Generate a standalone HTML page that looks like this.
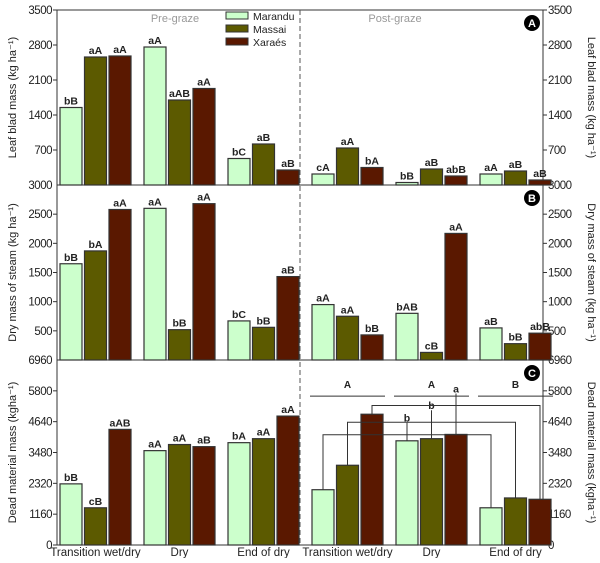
<!DOCTYPE html>
<html><head><meta charset="utf-8"><style>
body{margin:0;background:#fff;font-family:"Liberation Sans",sans-serif}
svg text{font-family:"Liberation Sans",sans-serif}
</style></head><body>
<svg width="600" height="558">
<g id="g"></g>
</svg>
<script>
const groups=["Transition wet/dry","Dry","End of dry","Transition wet/dry","Dry","End of dry"];
const seriesNames=["Marandu","Massai","Xaraés"];
const leafM=[1550,2760,530,220,50,220];
const leafMs=[2560,1700,820,740,320,280];
const leafX=[2580,1930,300,350,180,100];
const leafL=[["bB","aA","aA"],["aA","aAB","aA"],["bC","aB","aB"],["cA","aA","bA"],["bB","aB","abB"],["aA","aB","aB"]];
const dryM=[1650,2600,670,950,800,550];
const dryMs=[1870,520,560,750,130,280];
const dryX=[2580,2680,1430,430,2170,460];
const dryL=[["bB","bA","aA"],["aA","bB","aA"],["bC","bB","aB"],["aA","aA","bB"],["bAB","cB","aA"],["aB","bB","abB"]];
const deadM=[2300,3550,3850,2080,3920,1400];
const deadMs=[1400,3780,4000,3000,4000,1770];
const deadX=[4350,3700,4850,4920,4160,1720];
const deadL=[["bB","cB","aAB"],["aA","aA","aB"],["bA","aA","aA"],["","",""],["","",""],["","",""]];
const ticksA=[0,700,1400,2100,2800,3500];
const ticksB=[500,1000,1500,2000,2500,3000];
const ticksC=[0,1160,2320,3480,4640,5800,6960];
const colors=["#ccffcc","#5c5a00","#5a1800"];
const NS="http://www.w3.org/2000/svg";
const g=document.getElementById('g');
function el(t,a,txt){const e=document.createElementNS(NS,t);for(const k in a)e.setAttribute(k,a[k]);if(txt!==undefined)e.textContent=txt;g.appendChild(e);return e;}
const X0=57,X1=543;
function bx(gi,si){return 60+gi*84+si*24.5;}
const panels=[
 {top:10,bot:185,max:3500,data:[leafM,leafMs,leafX],lab:leafL,ticks:ticksA,title:"Leaf blad mass (kg ha⁻¹)",id:"A",bottomLabel:"3000",name:"leaf"},
 {top:185,bot:360,max:3000,data:[dryM,dryMs,dryX],lab:dryL,ticks:ticksB,title:"Dry mass of steam (kg ha⁻¹)",id:"B",bottomLabel:"6960",name:"dry"},
 {top:360,bot:545,max:6960,data:[deadM,deadMs,deadX],lab:deadL,ticks:ticksC,title:"Dead material mass (kgha⁻¹)",id:"C",name:"dead"}
];
panels.forEach((p,pi)=>{
 const y=v=>p.bot-v/p.max*(p.bot-p.top);
 let r=el('rect',{x:X0,y:p.top,width:X1-X0,height:p.bot-p.top,fill:'none',stroke:'#333','stroke-width':1});
 
 p.ticks.forEach(t=>{
  const yy=y(t);
  if(t===p.max && pi>0) return;
  if(t===0 && p.bottomLabel) return;
  el('line',{x1:X0-4,x2:X0,y1:yy,y2:yy,stroke:'#333'});
  el('line',{x1:X1,x2:X1+4,y1:yy,y2:yy,stroke:'#333'});
  let a=el('text',{x:X0-5,y:yy+4,'text-anchor':'end','font-size':11.5,fill:'#222','letter-spacing':'-0.5'},String(t));
  
  let b=el('text',{x:X1+5,y:yy+4,'font-size':11.5,fill:'#222','letter-spacing':'-0.5'},String(t));
  
 });
 if(p.bottomLabel){el('text',{x:X0-5,y:p.bot+4,'text-anchor':'end','font-size':11.5,fill:'#222','letter-spacing':'-0.5'},p.bottomLabel);el('text',{x:X1+5,y:p.bot+4,'font-size':11.5,fill:'#222','letter-spacing':'-0.5'},p.bottomLabel);}
 const cy=(p.top+p.bot)/2;
 let t1=el('text',{x:0,y:0,transform:`translate(16,${cy}) rotate(-90)`,'text-anchor':'middle','font-size':11,fill:'#222'},p.title);
 
 let t2=el('text',{x:0,y:0,transform:`translate(588,${cy}) rotate(90)`,'text-anchor':'middle','font-size':11,fill:'#222'},p.title);
 
 p.data.forEach((arr,si)=>arr.forEach((v,gi)=>{
  const x=bx(gi,si),yy=y(v);
  let b=el('rect',{x:x,y:yy,width:22,height:p.bot-yy,fill:colors[si],stroke:'#333','stroke-width':1.2});
  
  
  const l=p.lab[gi][si];
  if(l){let tx=el('text',{x:x+11,y:yy-3,'text-anchor':'middle','font-size':10.5,'font-weight':'bold',fill:'#222'},l);
   }
 }));
 el('circle',{cx:532,cy:p.top+13,r:8,fill:'#000'});
 let ic=el('text',{x:532,y:p.top+17,'text-anchor':'middle','font-size':11,'font-weight':'bold',fill:'#fff'},p.id);
 
});
let dv=el('line',{x1:300,x2:300,y1:10,y2:545,stroke:'#555','stroke-dasharray':'5,3'});

el('text',{x:175,y:22,'text-anchor':'middle','font-size':11,fill:'#999'},"Pre-graze");
el('text',{x:395,y:22,'text-anchor':'middle','font-size':11,fill:'#999'},"Post-graze");
seriesNames.forEach((n,i)=>{
 let r=el('rect',{x:226,y:12+i*13,width:22,height:7,fill:colors[i],stroke:'#333'});
 
 let t=el('text',{x:253,y:20+i*13,'font-size':10.5,fill:'#222'},n);
 
});
groups.forEach((n,gi)=>{
 let t=el('text',{x:bx(gi,1)+11,y:556,'text-anchor':'middle','font-size':11.5,fill:'#222'},n);
 
});
const yc=v=>545-v/6960*185;
[["A",3],["A",4],["B",5]].forEach(([l,gi])=>{
 el('line',{x1:bx(gi,0)-2,x2:bx(gi,2)+24,y1:yc(5600),y2:yc(5600),stroke:'#333'});
 el('text',{x:bx(gi,1)+11,y:yc(5600)-8,'text-anchor':'middle','font-size':10,'font-weight':'bold',fill:'#222'},l);
});
const brLevels=[4150,4620,5250];
const deadSeries=[deadM,deadMs,deadX];
[0,1,2].forEach(si=>{
 const lv=yc(brLevels[si]);
 const s=deadSeries[si];
 const x1=bx(3,si)+11,x2=bx(5,si)+11,xm=bx(4,si)+11;
 el('polyline',{points:`${x1},${yc(s[3])} ${x1},${lv} ${x2},${lv} ${x2},${yc(s[5])}`,fill:'none',stroke:'#333'});
 el('line',{x1:xm,x2:xm,y1:yc(s[4]),y2:lv-12,stroke:'#333'});
 el('text',{x:xm,y:lv-13,'text-anchor':'middle','font-size':10.5,'font-weight':'bold',fill:'#222'},["b","b","a"][si]);
});
</script>
</body></html>
